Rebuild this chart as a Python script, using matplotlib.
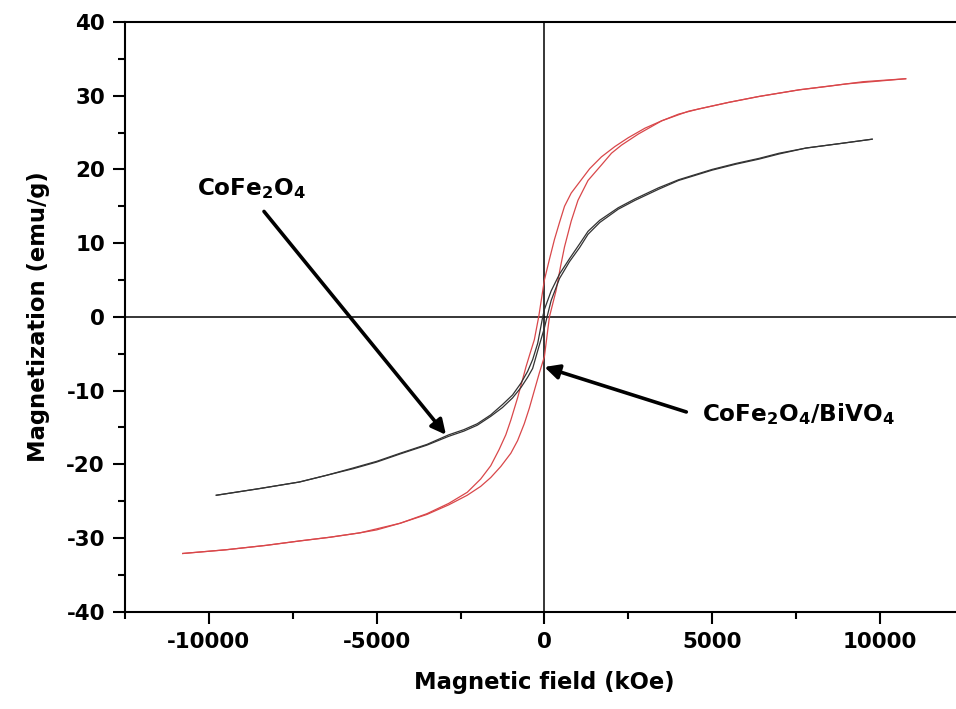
import matplotlib
matplotlib.use("Agg")
import matplotlib.pyplot as plt
from matplotlib.ticker import MultipleLocator

plt.rcParams['font.family'] = ['DejaVu Sans']
plt.rcParams['font.weight'] = 'bold'
plt.rcParams['axes.unicode_minus'] = False
plt.rcParams['mathtext.fontset'] = 'custom'
plt.rcParams['mathtext.rm'] = 'DejaVu Sans:bold'
plt.rcParams['mathtext.bf'] = 'DejaVu Sans:bold'
plt.rcParams['mathtext.default'] = 'rm'

# CoFe2O4/BiVO4 (red) - descending branch (+H -> -H)
red_down_h = [10770, 9500, 8500, 7600, 6400, 5500, 4600, 4000, 3500, 3000, 2500, 2100,
              1700, 1350, 1050, 800, 600, 450, 300, 150, 0, -170, -300, -430, -550, -680,
              -800, -1000, -1150, -1350, -1600, -1900, -2300, -2850, -3500, -4300, -5000,
              -5500, -6400, -7300, -8300, -9500, -10780]
red_down_m = [32.3, 31.9, 31.3, 30.8, 29.9, 29.1, 28.2, 27.5, 26.6, 25.6, 24.3, 23.1,
              21.7, 20.1, 18.3, 16.8, 15.0, 12.8, 10.5, 7.8, 5.0, 0.0, -3.1, -5.0, -6.8, -9.0,
              -11.0, -14.0, -16.0, -18.0, -20.2, -22.0, -23.8, -25.3, -26.7, -28.0, -28.9,
              -29.3, -29.9, -30.4, -31.0, -31.6, -32.1]
# ascending branch (-H -> +H)
red_up_h = [-10780, -9500, -8300, -7300, -6400, -5500, -4300, -3500, -2850, -2300, -1900,
            -1600, -1300, -1000, -800, -600, -450, -300, -150, 0, 150, 350, 480, 600, 800,
            1000, 1300, 1700, 2000, 2300, 2800, 3500, 4300, 5500, 6400, 7600, 9000, 10770]
red_up_m = [-32.1, -31.6, -31.0, -30.4, -29.9, -29.3, -28.0, -26.8, -25.5, -24.2, -23.0,
            -21.8, -20.3, -18.5, -16.8, -14.5, -12.4, -10.0, -7.6, -5.4, 0.0, 3.6, 6.8, 9.5, 13.0,
            15.8, 18.5, 20.6, 22.2, 23.3, 24.8, 26.6, 27.9, 29.1, 29.9, 30.8, 31.6, 32.3]

# CoFe2O4 (black)
blk_down_h = [9770, 8800, 7800, 7000, 6400, 5700, 5000, 4500, 4000, 3400, 2700, 2200, 1650,
              1300, 1050, 750, 450, 200, 0, -50, -200, -350, -500, -700, -950, -1250, -1600,
              -2000, -2400, -2850, -3500, -4300, -5000, -5700, -6500, -7300, -8500, -9780]
blk_down_m = [24.1, 23.5, 22.9, 22.2, 21.5, 20.8, 20.0, 19.3, 18.6, 17.5, 16.0, 14.8, 13.1,
              11.6, 9.9, 7.9, 5.8, 3.5, 1.0, 0.0, -3.6, -5.8, -7.4, -9.0, -10.6, -11.9, -13.3,
              -14.5, -15.3, -16.0, -17.3, -18.5, -19.6, -20.5, -21.5, -22.4, -23.3, -24.2]
blk_up_h = [-9780, -8500, -7300, -6500, -5700, -5000, -4300, -3500, -2850, -2400, -2000,
            -1600, -1250, -950, -700, -500, -350, -200, 0, 80, 200, 450, 750, 1050, 1300,
            1650, 2200, 2700, 3400, 4000, 4500, 5000, 5700, 6400, 7000, 7800, 8800, 9770]
blk_up_m = [-24.2, -23.3, -22.4, -21.5, -20.6, -19.7, -18.6, -17.4, -16.2, -15.5, -14.7,
            -13.5, -12.3, -11.0, -9.6, -8.2, -7.0, -4.6, -1.5, 0.0, 2.2, 5.2, 7.5, 9.4, 11.2,
            12.8, 14.6, 15.8, 17.3, 18.5, 19.2, 19.9, 20.7, 21.4, 22.1, 22.9, 23.5, 24.1]

fig = plt.figure(figsize=(9.56, 7.09), dpi=100)
ax = fig.add_axes([0.1308, 0.1372, 0.8773, 0.8318])

ax.plot(red_down_h, red_down_m, color='#d9474a', lw=0.9)
ax.plot(red_up_h, red_up_m, color='#d9474a', lw=0.9)
ax.plot(blk_down_h, blk_down_m, color='#333333', lw=0.9)
ax.plot(blk_up_h, blk_up_m, color='#333333', lw=0.9)

ax.axhline(0, color='k', lw=1.1, zorder=1)
ax.axvline(0, color='k', lw=1.1, zorder=1)

ax.set_xlim(-12500, 12500)
ax.set_ylim(-40, 40)
ax.xaxis.set_major_locator(MultipleLocator(5000))
ax.xaxis.set_minor_locator(MultipleLocator(2500))
ax.yaxis.set_major_locator(MultipleLocator(10))
ax.yaxis.set_minor_locator(MultipleLocator(5))
ax.tick_params(which='major', direction='out', length=8.5, width=1.5, labelsize=15.4, pad=6)
ax.tick_params(which='minor', direction='out', length=4.8, width=1.5)
ax.tick_params(top=False, right=False)
for lab in ax.get_xticklabels() + ax.get_yticklabels():
    lab.set_fontweight('bold')
for s in ax.spines.values():
    s.set_linewidth(1.5)

ax.set_xlabel('Magnetic field (kOe)', fontsize=16.3, fontweight='bold', labelpad=14)
ax.set_ylabel('Magnetization (emu/g)', fontsize=16.3, fontweight='bold', labelpad=12)

arrow = dict(arrowstyle='-|>', lw=2.6, color='k', mutation_scale=22, shrinkA=0, shrinkB=0)
ax.annotate('', xy=(-2934, -16.0), xytext=(-8358, 14.3), arrowprops=arrow)
ax.annotate('', xy=(0, -6.8), xytext=(4230, -12.9), arrowprops=arrow)
ax.text(-10358, 16.5, r'CoFe$_2$O$_4$', fontsize=16.7, fontweight='bold',
        ha='left', va='baseline')
ax.text(4687, -14.2, r'CoFe$_2$O$_4$/BiVO$_4$', fontsize=16.7, fontweight='bold',
        ha='left', va='baseline')

fig.savefig('out.png', dpi=100)
